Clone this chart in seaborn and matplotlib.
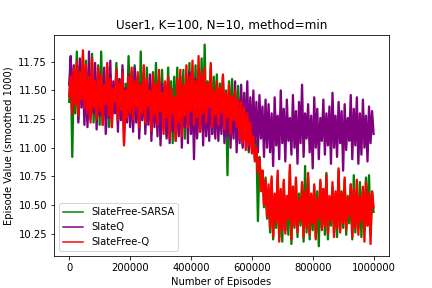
import numpy as np
import pandas as pd
import matplotlib
matplotlib.use('Agg')
import matplotlib.pyplot as plt
import seaborn as sns

# smoothed episode values, one reading every 5000 episodes
sarsa = [11.40, 11.78, 10.92, 11.66, 11.30, 11.84, 11.25, 11.72, 11.50, 11.80, 11.28,
         11.76, 11.24, 11.66, 11.30, 11.82, 11.22, 11.60, 11.34, 11.72, 11.20,
         11.84, 11.28, 11.58, 11.36, 11.70, 11.18, 11.64, 11.26, 11.52, 11.32,
         11.74, 11.22, 11.60, 11.30, 11.68, 11.16, 11.56, 11.28, 11.80, 11.24,
         11.66, 11.20, 11.72, 11.30, 11.58, 11.14, 11.84, 11.26, 11.62, 11.18,
         11.70, 11.32, 11.56, 11.12, 11.66, 11.24, 11.74, 11.20, 11.60, 11.08,
         11.68, 11.28, 11.54, 11.10, 11.70, 11.22, 11.58, 11.04, 11.62, 11.18,
         11.70, 11.12, 11.58, 11.26, 11.68, 11.08, 11.62, 11.22, 11.74, 11.16,
         11.60, 11.28, 11.72, 11.10, 11.66, 11.24, 11.78, 11.14, 11.90, 11.20,
         11.58, 11.30, 11.70, 11.12, 11.62, 11.22,
         11.64, 11.14, 11.56, 11.24, 11.62, 11.10, 11.50, 10.76, 11.58, 11.12,
         11.60, 11.20, 11.48, 11.06, 11.54, 11.16,
         11.46, 11.02, 11.40, 11.08, 11.36, 10.96, 11.30, 11.00,
         11.20, 10.90, 11.06, 10.36, 10.92, 10.70, 10.80, 10.48, 10.74, 10.38,
         10.64, 10.26, 10.72, 10.20, 10.58, 10.30, 10.76, 10.22, 10.62, 10.18,
         10.70, 10.28, 10.56, 10.24, 10.80, 10.16, 10.66, 10.30, 10.72, 10.22,
         10.60, 10.32, 10.68, 10.18, 10.84, 10.26, 10.74, 10.20, 10.58, 10.28,
         10.66, 10.22, 10.62, 10.14, 10.70, 10.30, 10.64, 10.24, 10.78, 10.20,
         10.56, 10.32, 10.66, 10.26, 10.60, 10.22, 10.80, 10.28, 10.62, 10.30,
         10.72, 10.24, 10.58, 10.34, 10.68, 10.20, 10.76, 10.26, 10.62, 10.30,
         10.70, 10.22, 10.64, 10.28, 10.74, 10.32, 10.76, 10.26, 10.60, 10.44]

slateq = [11.55, 11.80, 11.30, 11.72, 11.40, 11.66, 11.22, 11.78, 11.35, 11.62, 11.20,
          11.70, 11.18, 11.84, 11.25, 11.60, 11.30, 11.74, 11.16, 11.66, 11.28,
          11.56, 11.20, 11.70, 11.12, 11.62, 11.26, 11.76, 11.18, 11.58, 11.30,
          11.68, 11.14, 11.60, 11.24, 11.72, 11.05, 11.52, 11.22, 11.64, 11.18,
          11.58, 11.14, 11.70, 11.22, 11.62, 11.08, 11.56, 11.24, 11.66, 11.12,
          11.52, 11.20, 11.64, 11.06, 11.58, 11.18, 11.50, 11.10, 11.62, 11.02,
          11.56, 11.16, 11.48, 11.08, 11.60, 11.04, 11.52, 11.14, 11.44, 11.06,
          11.56, 11.10, 11.62, 11.00, 11.50, 11.18, 11.58, 11.04, 11.66, 11.12,
          11.52, 10.90, 11.60, 11.08, 11.48, 11.14, 11.62, 11.02, 11.54, 11.10,
          11.46, 11.06, 11.58, 11.12, 11.50, 11.08,
          11.52, 11.06, 11.46, 11.12, 11.56, 11.04, 11.44, 11.10, 11.50, 11.00,
          11.40, 11.08, 11.58, 10.96, 11.42, 11.04,
          11.55, 11.00, 11.48, 11.06, 11.58, 10.98, 11.44, 11.02,
          11.50, 11.04, 11.40, 10.96, 11.46, 11.08, 11.36, 10.92, 11.42, 11.00,
          11.38, 10.96, 11.30, 10.84, 11.44, 11.02, 11.28, 10.90, 11.50, 11.04,
          11.34, 10.88, 11.42, 11.06, 11.26, 10.94, 11.46, 11.00, 11.32, 10.86,
          11.40, 11.04, 11.55, 10.92, 11.30, 11.08, 11.38, 10.96, 11.28, 10.82,
          11.44, 11.00, 11.34, 10.90, 11.26, 11.06, 11.42, 10.94, 11.30, 11.02,
          11.36, 10.86, 11.48, 11.00, 11.28, 10.92, 11.40, 11.04, 11.32, 10.80,
          11.38, 10.98, 11.26, 11.06, 11.46, 10.90, 11.34, 11.02, 11.44, 10.86,
          11.30, 10.94, 11.42, 11.00, 11.28, 10.88, 11.36, 11.04, 11.32, 11.12]

freeq = [11.45, 11.62, 11.30, 11.70, 11.38, 11.75, 11.28, 11.66, 11.42, 11.85, 11.35,
         11.72, 11.30, 11.62, 11.22, 11.78, 11.35, 11.58, 11.25, 11.70, 11.32,
         11.64, 11.20, 11.55, 11.38, 11.74, 11.28, 11.60, 11.18, 11.52, 11.40,
         11.68, 11.24, 11.57, 11.33, 11.66, 11.02, 11.50, 11.26, 11.62, 11.30,
         11.70, 11.25, 11.58, 11.35, 11.66, 11.18, 11.55, 11.30, 11.72, 11.22,
         11.60, 11.36, 11.50, 11.15, 11.64, 11.28, 11.56, 11.20, 11.68, 11.32,
         11.48, 11.12, 11.58, 11.26, 11.62, 11.08, 11.52, 11.30, 11.44, 11.06,
         11.60, 11.22, 11.68, 11.10, 11.55, 11.28, 11.72, 11.18, 11.62, 11.32,
         11.76, 11.20, 11.58, 11.26, 11.80, 11.14, 11.66, 11.30, 11.70, 11.22,
         11.56, 11.35, 11.74, 11.18, 11.50, 11.28,
         11.58, 11.20, 11.52, 11.30, 11.64, 11.16, 11.48, 11.26, 11.55, 11.12,
         11.45, 11.24, 11.50, 11.18, 11.42, 11.08,
         11.40, 11.05, 11.35, 10.98, 11.30, 11.02, 11.22, 10.95,
         11.10, 10.88, 11.00, 10.78, 10.90, 10.62, 10.80, 10.50, 10.72, 10.40,
         10.68, 10.30, 10.75, 10.22, 10.60, 10.35, 10.80, 10.18, 10.64, 10.28,
         10.72, 10.25, 10.58, 10.38, 10.85, 10.20, 10.66, 10.32, 10.74, 10.26,
         10.55, 10.36, 10.70, 10.22, 10.62, 10.30, 10.78, 10.24, 10.60, 10.34,
         10.68, 10.20, 10.56, 10.38, 10.72, 10.28, 10.64, 10.32, 10.76, 10.25,
         10.58, 10.36, 10.70, 10.22, 10.62, 10.30, 10.82, 10.26, 10.60, 10.34,
         10.74, 10.28, 10.56, 10.40, 10.68, 10.22, 10.64, 10.30, 10.72, 10.24,
         10.58, 10.36, 10.66, 10.18, 10.70, 10.32, 10.60, 10.16, 10.62, 10.48]

names = ['SlateFree-SARSA', 'SlateQ', 'SlateFree-Q']
colors = ['green', 'purple', 'red']

frames = []
for name, vals in zip(names, [sarsa, slateq, freeq]):
    frames.append(pd.DataFrame({'episode': np.arange(len(vals)) * 5000,
                                'value': vals, 'method': name}))
df = pd.concat(frames, ignore_index=True)

fig, ax = plt.subplots(figsize=(6, 4), dpi=72)
sns.lineplot(data=df, x='episode', y='value', hue='method', hue_order=names,
             palette=dict(zip(names, colors)), estimator=None, sort=False,
             linewidth=2.3, ax=ax)
ax.ticklabel_format(axis='x', style='plain')
ax.set_title('User1, K=100, N=10, method=min')
ax.set_xlabel('Number of Episodes')
ax.set_ylabel('Episode Value (smoothed 1000)')
leg = ax.legend(loc='lower left')
for h in leg.get_lines():
    h.set_linewidth(1.5)
plt.savefig('out.png', dpi=72)
